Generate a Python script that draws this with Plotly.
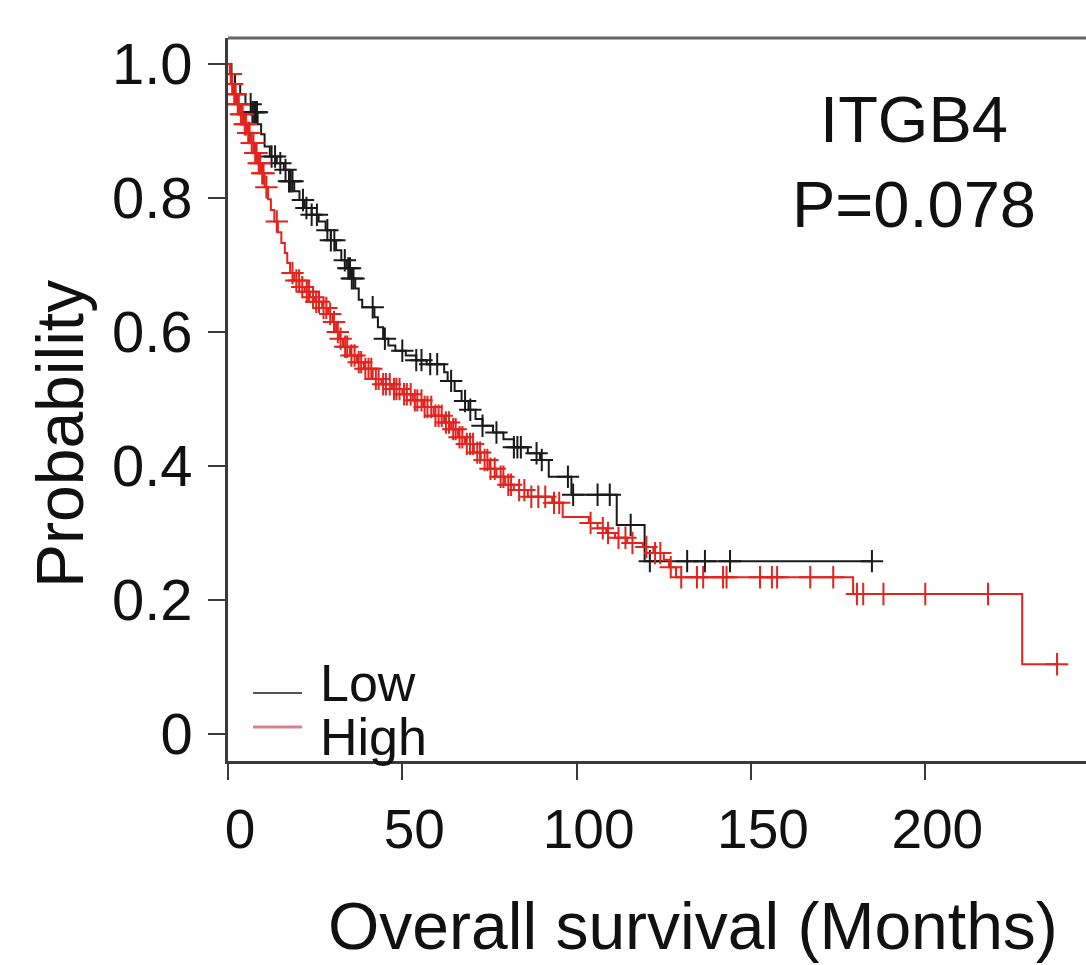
import numpy as np
import plotly.graph_objects as go

# ---------------- data ----------------
low_times = [0, 1, 2, 3.5, 5, 7, 8.5, 9.5, 10.5, 12, 14, 16, 17.5, 19, 20.5, 22, 24, 26, 28, 29.5,
             31, 32.5, 34, 35.5, 36.5, 37.5, 38.5, 42, 43, 44.5, 46, 48, 51, 54, 57, 62, 63, 65, 67, 69,
             71, 73, 76, 79, 82, 86, 89.5, 92, 98.5, 111.5, 119.5]
low_surv = [1.0, 0.985, 0.97, 0.955, 0.94, 0.928, 0.91, 0.895, 0.877, 0.862, 0.852, 0.842, 0.825, 0.81,
            0.797, 0.785, 0.775, 0.765, 0.752, 0.737, 0.722, 0.707, 0.695, 0.68, 0.665, 0.648, 0.637,
            0.622, 0.607, 0.59, 0.58, 0.572, 0.565, 0.558, 0.552, 0.54, 0.527, 0.512, 0.497, 0.484,
            0.47, 0.46, 0.45, 0.44, 0.428, 0.419, 0.409, 0.384, 0.357, 0.312, 0.258]
low_censor = [6.5, 7.0, 7.5, 8.0, 8.3, 12.5, 13.5, 15, 16.5, 17.5, 18.0, 18.5, 21.5, 22.5, 24, 25.5,
              28.5, 29.5, 30.5, 33.5, 34.5, 35.0, 35.5, 36, 41.5, 45, 50, 54, 55.5, 58, 60, 64, 68,
              69.5, 73, 77, 82, 83, 84, 88.5, 90, 97.5, 99, 106, 109.5, 115.5, 121, 131.7, 136.8,
              144, 184.7]

high_times = [0, 0.5, 1, 1.5, 2.5, 3.5, 4.5, 5.5, 6.5, 7.5, 8.5, 9.5, 10.5, 11.5, 12.3, 13.3, 14.3,
              15.3, 16.3, 17, 17.8, 19, 20.5, 22, 23.5, 25, 27, 28.7, 30, 31, 32, 33, 35, 37, 39,
              41.5, 44, 47, 50, 53, 56, 59, 62, 64, 66, 68, 70.5, 72.5, 75, 77, 79.5, 82, 86, 93, 96,
              103.5, 106, 108.5, 111, 114.5, 119, 122, 125, 126.5, 128.5, 179.3, 227.8]
high_surv = [1.0, 0.985, 0.97, 0.955, 0.94, 0.925, 0.91, 0.897, 0.882, 0.867, 0.852, 0.837, 0.816,
             0.798, 0.782, 0.765, 0.749, 0.733, 0.718, 0.703, 0.688, 0.677, 0.667, 0.66, 0.652, 0.645,
             0.636, 0.627, 0.615, 0.6, 0.59, 0.578, 0.565, 0.555, 0.545, 0.53, 0.522, 0.515, 0.507,
             0.498, 0.488, 0.475, 0.465, 0.455, 0.443, 0.433, 0.42, 0.409, 0.396, 0.384, 0.372,
             0.364, 0.354, 0.345, 0.324, 0.315, 0.307, 0.3, 0.293, 0.285, 0.279, 0.27, 0.26, 0.249,
             0.234, 0.209, 0.104]
high_censor = [0.8, 1.2, 1.8, 2.2, 2.8, 3.1, 3.7, 4.2, 4.8, 5.2, 5.8, 6.2, 6.8, 7.3, 7.8, 8.2, 8.8,
               9.2, 9.8, 10.2, 11.0, 14.0, 18.5, 19.6, 20.4, 21.3, 22.6, 23.2, 24.4, 25.3, 26.1, 27.4,
               28.2, 29.3, 30.4, 31.5, 32.3, 33.6, 34.2, 35.4, 36.3, 37.5, 38.2, 39.4, 40.3, 41.1,
               42.4, 43.2, 44.5, 45.3, 46.4, 47.6, 48.3, 49.2, 50.5, 51.3, 52.4, 53.6, 54.3, 55.5,
               56.4, 57.2, 58.3, 59.5, 60.4, 61.3, 62.5, 63.4, 64.6, 65.3, 66.4, 67.2, 68.5, 69.4,
               70.3, 71.5, 72.3, 73.6, 74.4, 75.3, 76.5, 78.2, 79.0, 80.4, 81.2, 83.5, 85.0, 87.0,
               89.0, 91.0, 93.5, 95.0, 104.0, 107.5, 109.0, 112.0, 114.0, 116.0, 120.0, 122.5, 124.0,
               127.0, 130.0, 134.5, 136.3, 142.0, 143.0, 152.6, 156.0, 157.5, 167.0, 173.6, 180.4,
               182.2, 188.0, 200.0, 218.0, 237.8]

x_ticks = [0, 50, 100, 150, 200]
x_tick_labels = ["0", "50", "100", "150", "200"]
y_ticks = [0, 0.2, 0.4, 0.6, 0.8, 1.0]
y_tick_labels = ["0", "0.2", "0.4", "0.6", "0.8", "1.0"]
series_names = ["Low", "High"]
gene = "ITGB4"
p_value = "P=0.078"

# ---------------- style ----------------
W, H = 1086, 965
ML, MR, MT, MB = 228, 0, 38, 204
X_RANGE = [0, 246.1]
Y_RANGE = [-0.0403, 1.0388]
FONT = "Liberation Sans, Arial, sans-serif"
BLACK = "#1a1a1a"
RED = "#e2231e"
AXC = "#3a3a3a"


def px_x(px):
    return X_RANGE[0] + (px - ML) / (W - ML - MR) * (X_RANGE[1] - X_RANGE[0])


def px_y(py):
    return Y_RANGE[1] - (py - MT) / (H - MT - MB) * (Y_RANGE[1] - Y_RANGE[0])


def surv_at(times, surv, t):
    times = np.asarray(times)
    idx = np.searchsorted(times, np.asarray(t), side="right") - 1
    return np.asarray(surv)[idx]


fig = go.Figure()
for times, surv, cens, col, name in [
    (low_times, low_surv, low_censor, BLACK, series_names[0]),
    (high_times, high_surv, high_censor, RED, series_names[1]),
]:
    end_t = max(max(cens), times[-1])
    fig.add_trace(go.Scatter(
        x=list(times) + [end_t], y=list(surv) + [surv[-1]],
        mode="lines", line=dict(color=col, width=2, shape="hv"),
        name=name, showlegend=False, hoverinfo="skip"))
    fig.add_trace(go.Scatter(
        x=cens, y=surv_at(times, surv, cens), mode="markers",
        marker=dict(symbol="cross-thin", size=16, line=dict(color=col, width=2)),
        name=name + " censored", showlegend=False))

# manual legend
leg_x0, leg_x1 = px_x(253), px_x(302)
for name, col, ly, ty, lw in [(series_names[0], "#555555", 693, 683, 2),
                               (series_names[1], "#d8808c", 727, 737, 3)]:
    fig.add_shape(type="line", x0=leg_x0, x1=leg_x1, y0=px_y(ly), y1=px_y(ly),
                  xref="x", yref="y", line=dict(color=col, width=lw))
    fig.add_annotation(x=px_x(318), y=px_y(ty), text=name, showarrow=False,
                       xanchor="left", yanchor="middle", xref="x", yref="y",
                       font=dict(family=FONT, size=52, color="#111"))

# gene / p-value
fig.add_annotation(x=px_x(914), y=px_y(162), text=gene + "<br>" + p_value, showarrow=False,
                   xanchor="center", yanchor="middle", xref="x", yref="y",
                   font=dict(family=FONT, size=65, color="#111"))

# axis titles
fig.add_annotation(x=(693 - ML) / (W - ML - MR), y=-(926 - (H - MB)) / (H - MT - MB),
                   xref="paper", yref="paper", text="Overall survival (Months)", showarrow=False,
                   xanchor="center", yanchor="middle", font=dict(family=FONT, size=66, color="#111"))
fig.add_annotation(x=-(ML - 60) / (W - ML - MR), y=(H - MB - 434) / (H - MT - MB),
                   xref="paper", yref="paper", text="Probability", showarrow=False, textangle=-90,
                   xanchor="center", yanchor="middle", font=dict(family=FONT, size=66, color="#111"))

# top border
fig.add_shape(type="line", xref="paper", yref="paper", x0=0, x1=1, y0=1, y1=1,
              line=dict(color="#666666", width=3))

fig.update_layout(
    width=W, height=H, margin=dict(l=ML, r=MR, t=MT, b=MB),
    paper_bgcolor="white", plot_bgcolor="white", showlegend=False,
    font=dict(family=FONT, color="#111"),
)
fig.update_xaxes(range=X_RANGE, tickvals=x_ticks, ticktext=x_tick_labels, showgrid=False,
                 zeroline=False, showline=True, linecolor=AXC, linewidth=2.5, ticks="outside",
                 ticklen=16, tickwidth=2, tickcolor=AXC, tickfont=dict(family=FONT, size=55, color="#111"),
                 ticklabelstandoff=2, ticklabelshift=12)
fig.update_yaxes(range=Y_RANGE, tickvals=y_ticks, ticktext=y_tick_labels, showgrid=False,
                 zeroline=False, showline=True, linecolor=AXC, linewidth=2.5, ticks="outside",
                 ticklen=17, tickwidth=2, tickcolor=AXC, tickfont=dict(family=FONT, size=58, color="#111"),
                 ticklabelstandoff=4)

fig.write_html("out.html")
